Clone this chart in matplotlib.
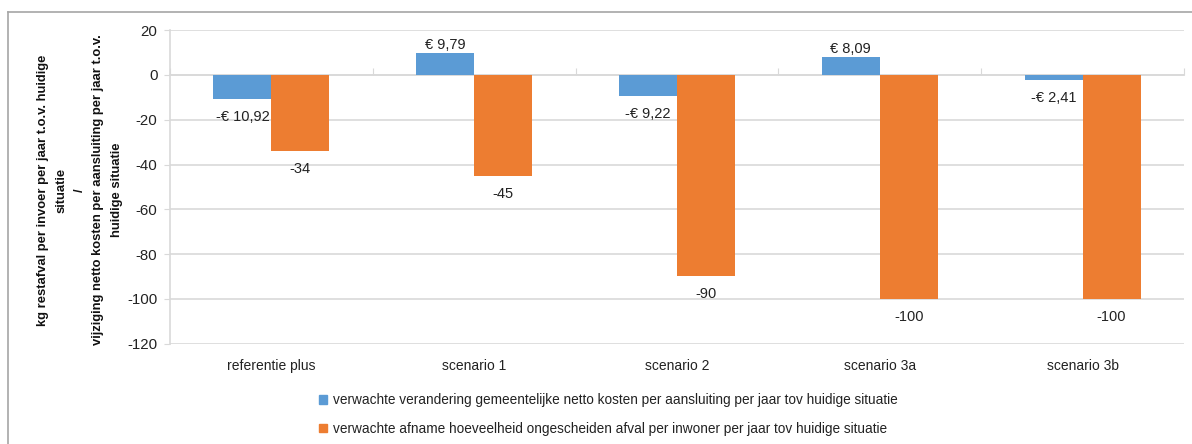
import matplotlib
matplotlib.use("Agg")
import matplotlib.pyplot as plt
from matplotlib.lines import Line2D
from matplotlib.patches import Patch
import matplotlib.transforms as mtransforms

plt.rcParams['font.family'] = ['Liberation Sans', 'DejaVu Sans']
plt.rcParams['axes.unicode_minus'] = False

categories = ["referentie plus", "scenario 1", "scenario 2", "scenario 3a", "scenario 3b"]
kosten = [-10.92, 9.79, -9.22, 8.09, -2.41]
afval = [-34, -45, -90, -100, -100]
kosten_labels = ["-€ 10,92", "€ 9,79", "-€ 9,22", "€ 8,09", "-€ 2,41"]
afval_labels = ["-34", "-45", "-90", "-100", "-100"]
legend_names = [
    "verwachte verandering gemeentelijke netto kosten per aansluiting per jaar tov huidige situatie",
    "verwachte afname hoeveelheid ongescheiden afval per inwoner per jaar tov huidige situatie",
]
ylabel = ("kg restafval per invoer per jaar t.o.v. huidige\nsituatie\n/\n"
          "vijziging netto kosten per aansluiting per jaar t.o.v.\nhuidige situatie")

BLUE = "#5B9BD5"
ORANGE = "#ED7D31"
GRID = "#D9D9D9"

fig = plt.figure(figsize=(11.92, 4.44), dpi=100)
ax = fig.add_axes([170/1192, 1-343.6/444, 1014/1192, 313.4/444])

w = 0.286
x = list(range(len(categories)))
xb = [i - w/2 for i in x]
xo = [i + w/2 for i in x]
ax.bar(xb, kosten, width=w, color=BLUE, zorder=3)
ax.bar(xo, afval, width=w, color=ORANGE, zorder=3)

# labels boven positieve, onder negatieve balken
for xs, vals, labs in ((xb, kosten, kosten_labels), (xo, afval, afval_labels)):
    for xi, v, lab in zip(xs, vals, labs):
        if v >= 0:
            ax.annotate(lab, (xi, v), xytext=(0, 1), textcoords='offset pixels',
                        ha='center', va='bottom', fontsize=10.5, color='#222222')
        else:
            ax.annotate(lab, (xi, v), xytext=(0, -11), textcoords='offset pixels',
                        ha='center', va='top', fontsize=10.5, color='#222222')

ax.set_ylim(-120, 20)
ax.set_xlim(-0.5, len(categories) - 0.5)
ax.set_yticks(range(-120, 21, 20))
ax.yaxis.grid(True, color=GRID, linewidth=1.2, zorder=0)
ax.tick_params(axis='y', length=4, color=GRID, labelsize=10.8, labelcolor='#222222', pad=5)

for s in ('top', 'right'):
    ax.spines[s].set_visible(False)
ax.spines['left'].set_color(GRID)
ax.spines['left'].set_linewidth(1.2)
ax.spines['bottom'].set_position(('data', 0))
ax.spines['bottom'].set_color(GRID)
ax.spines['bottom'].set_linewidth(1.2)
ax.set_xticks([i + 0.5 for i in x[:-1]] + [-0.5, len(categories) - 0.5])
ax.tick_params(axis='x', length=5, direction='in', color=GRID, labelbottom=False)

trans = mtransforms.blended_transform_factory(ax.transData, ax.transAxes)
for i, c in enumerate(categories):
    ax.text(i, -0.07, c, transform=trans, ha='center', va='center',
            fontsize=10, color='#222222')

fig.text(80/1192, 1-190/444, ylabel, rotation=90, ha='center', va='center',
         multialignment='center', fontsize=9.4, fontweight='bold',
         linespacing=1.72, color='#111111')

handles = [Patch(color=BLUE), Patch(color=ORANGE)]
fig.legend(handles, legend_names, loc='upper left', bbox_to_anchor=(307/1192, 1-381/444),
           frameon=False, handlelength=0.6, handleheight=0.6, handletextpad=0.4,
           labelspacing=1.08, fontsize=9.8, labelcolor='#222222')

fig.add_artist(Line2D([8/1192, 1], [1-12/444, 1-12/444], color='#A6A6A6', linewidth=1.2))
fig.add_artist(Line2D([8/1192, 8/1192], [0, 1-12/444], color='#A6A6A6', linewidth=1.2))

fig.savefig("out.png", dpi=100)
